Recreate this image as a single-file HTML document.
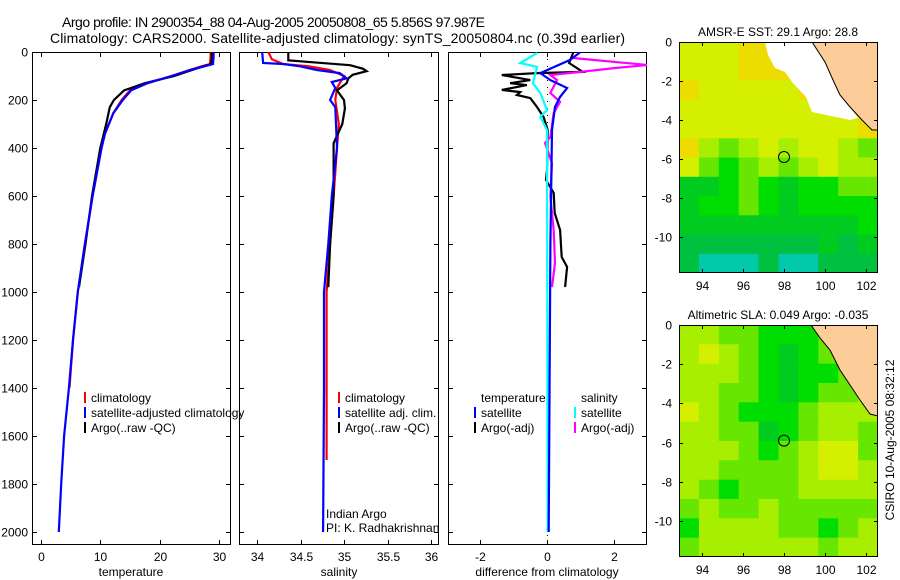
<!DOCTYPE html>
<html><head><meta charset="utf-8"><style>
body{margin:0;background:#fff;}
svg{display:block;font-family:"Liberation Sans",sans-serif;}
</style></head><body>
<svg id="c" width="900" height="580" viewBox="0 0 900 580" xmlns="http://www.w3.org/2000/svg"></svg>
<script>
// ---------------- data ----------------
const depthT = [0,20,50,60,75,100,130,160,200,255,340,400,600,800,1000,1200,1400,1600,1800,2000];
const climT  = [28.6,28.6,28.5,27,25,22,18,15,13.6,12.2,10.8,10.2,8.7,7.4,6.2,5.4,4.8];
const satT   = [29.1,29.1,29.0,27.5,25.2,22,17.9,15.2,13.8,12.2,10.8,10.2,8.7,7.4,6.2,5.4,4.7,3.9,3.4,3.0];
const argoTDepth = [0,20,50,60,75,100,130,160,200,230,300,400,600,800,980];
const argoT  = [28.8,28.8,28.7,27.3,25.5,22.5,17.5,14.0,12.3,11.6,11.0,10.0,8.6,7.5,6.4];

const depthSsat = [0,46,50,60,75,88,110,125,150,200,230,400,600,800,1000,1400,2000];
const satS      = [34.06,34.07,34.3,34.5,34.69,34.95,35.03,34.86,34.9,34.84,34.9,34.92,34.86,34.82,34.77,34.77,34.76];
const depthSclim = [0,30,50,60,75,100,150,200,300,400,600,800,1000,1700];
const climS      = [34.13,34.17,34.3,34.6,34.84,35.0,34.92,34.9,34.94,34.92,34.88,34.84,34.8,34.8];
const depthSargo = [0,35,45,55,70,80,95,110,130,160,200,235,300,380,600,800,980];
const argoS      = [34.36,34.36,34.72,35.07,35.22,35.26,35.1,35.05,35.03,34.92,35.0,35.01,34.98,34.88,34.88,34.84,34.82];

const dTsatDepth = [0,33,88,117,150,187,229,325,800,2000];
const dTsat      = [1.0,0.69,-0.2,0.1,0.6,0.39,0.24,0.15,0.1,0.05];
const dSsatDepth = [4,46,62,130,171,242,271,325,2000];
const dSsat      = [-0.3,-0.8,-0.3,-0.42,-0.2,0,-0.2,0,0.02];
const dTargoDepth = [4,46,83,88,96,117,130,138,158,167,179,192,229,271,325,492,533,587,671,742,854,896,979];
const dTargo      = [0.78,0.66,1.07,-0.3,-1.35,-0.5,-1.1,-0.6,-1.35,-0.8,-0.9,-0.5,-0.3,-0.1,0.02,0,-0.03,0.2,0.23,0.39,0.44,0.6,0.54];
const dSargoDepth = [25,54,67,83,96,117,171,208,254,354,379,463,604,742,879,979];
const dSargo      = [0.78,3.0,2.0,1.0,0.1,0.3,0.1,0.39,0.2,0.1,-0.06,0.15,0.1,0.2,0.24,0.15];

const yTicks = [0,200,400,600,800,1000,1200,1400,1600,1800,2000];
const tTicks = [0,10,20,30];
const sTicks = [34,34.5,35,35.5,36];
const sTickLabels = ["34","34.5","35","35.5","36"];
const dTicks = [-2,0,2];
const lonTicks = [94,96,98,100,102];
const latTicks = [0,-2,-4,-6,-8,-10];

const sstGrid = ["7778899866","7778889976","8777778985","7777777787","7777777778","8656767765","7545656766","3345434455","3445434444","3333333334","2222222323","2111211222"];
const slaGrid = ["6655444555","6765434555","6665434455","6655434556","7654445666","6655345665","6665456775","6655556776","6545556666","5655655555","4666655456","5666666566"];
const cmap = ["#00d0c8","#00c8a8","#00c040","#00cc20","#00dd00","#66e600","#a8ee00","#d4f000","#ecdc00","#f4c400"];

// ---------------- helpers ----------------
const svg = document.getElementById('c');
const NS = "http://www.w3.org/2000/svg";
function mk(tag, attrs, parent){
  const e = document.createElementNS(NS, tag);
  for (const k in attrs) e.setAttribute(k, attrs[k]);
  (parent||svg).appendChild(e);
  return e;
}
function txt(s, x, y, anchor, size, parent){
  const e = mk('text', {x:x, y:y, 'text-anchor':anchor||'start', 'font-size':size||12, fill:'#000'}, parent);
  e.textContent = s;
  return e;
}
const yD = d => 52 + d*0.24;
const xT = t => 41 + t*5.93;
const xS = s => 257 + (s-34)*87;
const xDf = v => 547 + v*33.5;
// matlab-ish stair line through points
function line(xs, ds, xf, color, name, clip){
  let pts = [];
  for (let i=0;i<xs.length;i++){
    pts.push(xf(xs[i]).toFixed(1)+','+yD(ds[i]).toFixed(1));
  }
  const p = mk('polyline', {points:pts.join(' '), fill:'none', stroke:color, 'stroke-width':2.2, 'clip-path':'url(#'+clip+')'});
  
  
  return p;
}

// ---------------- titles ----------------
const t1 = txt("Argo profile: IN 2900354_88 04-Aug-2005 20050808_65 5.856S 97.987E", 62, 27, 'start', 14);


t1.setAttribute('textLength', '423');
const t2 = txt("Climatology: CARS2000. Satellite-adjusted climatology: synTS_20050804.nc (0.39d earlier)", 50, 43, 'start', 14);


t2.setAttribute('textLength', '575');

// ---------------- profile panels ----------------
const panels = [
  {id:'p1', x0:32, x1:231, name:'temperature-panel'},
  {id:'p2', x0:239, x1:439, name:'salinity-panel'},
  {id:'p3', x0:448, x1:647, name:'difference-panel'}
];
const defs = mk('defs', {});
panels.forEach(p=>{
  const cp = mk('clipPath', {id:p.id}, defs);
  mk('rect', {x:p.x0, y:52, width:p.x1-p.x0, height:493}, cp);
});
panels.forEach((p,i)=>{
  const g = mk('g', {});
  
  
  mk('rect', {x:p.x0+0.5, y:52.5, width:p.x1-p.x0-1, height:492, fill:'#fff', stroke:'#000', 'stroke-width':1}, g);
  yTicks.forEach(d=>{
    const y = Math.round(yD(d))+0.5;
    mk('line', {x1:p.x0, x2:p.x0+5, y1:y, y2:y, stroke:'#000'}, g);
    mk('line', {x1:p.x1-5, x2:p.x1, y1:y, y2:y, stroke:'#000'}, g);
    if (i===0){
      const l = txt(String(d), 28, y+4, 'end', 12);
      
      
    }
  });
});
function xticks(vals, labels, f, name){
  vals.forEach((v,i)=>{
    const x = Math.round(f(v))+0.5;
    mk('line', {x1:x, x2:x, y1:52, y2:57, stroke:'#000'});
    mk('line', {x1:x, x2:x, y1:540, y2:545, stroke:'#000'});
    const l = txt(labels[i], x, 561, 'middle', 12);
    
    
  });
}
xticks(tTicks, tTicks.map(String), xT, 'temperature-tick-label');
xticks(sTicks, sTickLabels, xS, 'salinity-tick-label');
xticks(dTicks, dTicks.map(String), xDf, 'difference-tick-label');
[['temperature',131],['salinity',339],['difference from climatology',547]].forEach(a=>{
  const l = txt(a[0], a[1], 576, 'middle', 12);
  
  
});

// zero dotted line in difference panel
const zl = mk('line', {x1:547.5, x2:547.5, y1:52, y2:545, stroke:'#000', 'stroke-width':1, 'stroke-dasharray':'1,6'});



// temperature lines
line(climT, depthT.slice(0, climT.length), xT, '#ff0000', 'climatology-temperature-line', 'p1');
line(argoT, argoTDepth, xT, '#000000', 'argo-temperature-line', 'p1');
line(satT, depthT, xT, '#0000ff', 'satellite-temperature-line', 'p1');
// salinity lines
line(climS, depthSclim, xS, '#ff0000', 'climatology-salinity-line', 'p2');
line(argoS, depthSargo, xS, '#000000', 'argo-salinity-line', 'p2');
line(satS, depthSsat, xS, '#0000ff', 'satellite-salinity-line', 'p2');
// difference lines
line(dTargo, dTargoDepth, xDf, '#000000', 'argo-temperature-difference-line', 'p3');
line(dSargo, dSargoDepth, xDf, '#ff00ff', 'argo-salinity-difference-line', 'p3');
line(dSsat, dSsatDepth, xDf, '#00ffff', 'satellite-salinity-difference-line', 'p3');
line(dTsat, dTsatDepth, xDf, '#0000ff', 'satellite-temperature-difference-line', 'p3');

// legends
function legend(items, bx, y0, gname){
  const g = mk('g', {});
  
  
  items.forEach((it,i)=>{
    const y = y0 + i*15;
    if (it[1]) mk('rect', {x:bx, y:y-10, width:2, height:11, fill:it[1]}, g);
    const l = txt(it[0], bx+7, y, 'start', 12, g);
    
    
  });
}
legend([['climatology','#ff0000'],['satellite-adjusted climatology','#0000ff'],['Argo(..raw -QC)','#000']], 84, 402, 'temperature-legend');
legend([['climatology','#ff0000'],['satellite adj. clim.','#0000ff'],['Argo(..raw -QC)','#000']], 338, 402, 'salinity-legend');
legend([['temperature',null],['satellite','#0000ff'],['Argo(-adj)','#000']], 474, 402, 'diff-temperature-legend');
legend([['salinity',null],['satellite','#00ffff'],['Argo(-adj)','#ff00ff']], 574, 402, 'diff-salinity-legend');
const ia = txt('Indian Argo', 326, 518, 'start', 12);


const pi = txt('PI: K. Radhakrishnan', 326, 532, 'start', 12);



// ---------------- maps ----------------
function map(grid, top, bottom, title, name, landPts, whitePts){
  const x0 = 679, x1 = 878;
  const lat0y = top, pxLat = (name==='sst-map') ? 19.5 : 19.6;
  const lonX = lon => 702 + (lon-94)*20.5;
  const latY = lat => lat0y - lat*pxLat;
  const g = mk('g', {});
  
  
  const cid = name+'-clip';
  const cp = mk('clipPath', {id:cid}, defs);
  mk('rect', {x:x0, y:top, width:x1-x0, height:bottom-top}, cp);
  const cells = mk('g', {'clip-path':'url(#'+cid+')'}, g);
  const rows = grid.length, cols = grid[0].length;
  const cw = (x1-x0)/cols, ch = (bottom-top)/rows;
  for (let r=0;r<rows;r++) for (let c=0;c<cols;c++){
    const cell = mk('rect', {x:(x0+c*cw).toFixed(1), y:(top+r*ch).toFixed(1), width:(cw+0.6).toFixed(1), height:(ch+0.6).toFixed(1), fill:cmap[+grid[r][c]]}, cells);
    
    
  }
  if (whitePts) mk('polygon', {points:whitePts, fill:'#fff'}, cells);
  const land = mk('polygon', {points:landPts, fill:'#fccc99', stroke:'#000', 'stroke-width':1}, cells);
  
  
  const mk2 = mk('circle', {cx:lonX(98), cy:latY(-5.9), r:5.5, fill:'none', stroke:'#000', 'stroke-width':1}, g);
  
  
  mk('rect', {x:x0+0.5, y:top+0.5, width:x1-x0-1, height:bottom-top-1, fill:'none', stroke:'#000'}, g);
  lonTicks.forEach(lon=>{
    const x = Math.round(lonX(lon))+0.5;
    mk('line', {x1:x, x2:x, y1:top, y2:top+4, stroke:'#000'}, g);
    mk('line', {x1:x, x2:x, y1:bottom-4, y2:bottom, stroke:'#000'}, g);
    const l = txt(String(lon), x, bottom+17, 'middle', 12, g);
    
    
  });
  latTicks.forEach(lat=>{
    const y = Math.round(latY(lat))+0.5;
    mk('line', {x1:x0, x2:x0+4, y1:y, y2:y, stroke:'#000'}, g);
    mk('line', {x1:x1-4, x2:x1, y1:y, y2:y, stroke:'#000'}, g);
    const l = txt(String(lat), 672, y+4, 'end', 12, g);
    
    
  });
  const tt = txt(title, 778, top-6, 'middle', 12, g);
  
  
}
map(sstGrid, 42, 273, 'AMSR-E SST: 29.1  Argo: 28.8', 'sst-map',
  '812,42 878,42 878,130 872,130 862,120 850,107 840,95 833,80 825,62',
  '765,42 812,42 825,62 833,80 850,107 858,118 850,120 812,112 806,97 792,82 785,72 775,68 768,55');
map(slaGrid, 325, 557, 'Altimetric SLA: 0.049  Argo: -0.035', 'sla-map',
  '811,325 878,325 878,416 870,414 860,400 850,385 840,370 830,350 820,338');
const cs = txt('CSIRO 10-Aug-2005 08:32:12', 0, 0, 'middle', 12);
cs.setAttribute('transform', 'translate(894,440) rotate(-90)');


</script>
</body></html>
